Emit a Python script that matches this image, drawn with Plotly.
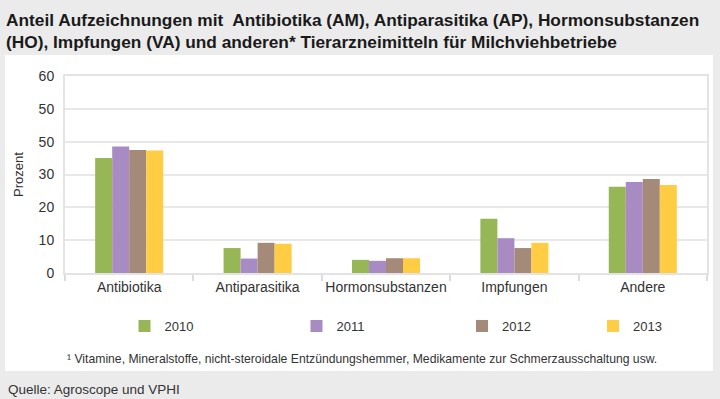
import plotly.graph_objects as go

categories = ["Antibiotika", "Antiparasitika", "Hormonsubstanzen", "Impfungen", "Andere"]
years = ["2010", "2011", "2012", "2013"]
values_2010 = [35.0, 7.6, 4.0, 16.5, 26.3]
values_2011 = [38.5, 4.4, 3.7, 10.6, 27.7]
values_2012 = [37.5, 9.2, 4.5, 7.6, 28.6]
values_2013 = [37.3, 8.9, 4.5, 9.2, 26.8]
series = [values_2010, values_2011, values_2012, values_2013]
colors = ["#97b655", "#a98bc4", "#a68a79", "#ffcd44"]
ytick_vals = [0, 10, 20, 30, 40, 50, 60]
ytick_text = ["0", "10", "20", "30", "50", "50", "60"]

W, H = 720, 399
ML, MR, MT, MB = 65, 13, 76, 126
PW, PH = W - ML - MR, H - MT - MB

def px_x(px):
    return (px - ML) / PW

def px_y(py):
    return (H - MB - py) / PH

TXT = "#333333"
FONT = "Liberation Sans, Arial, sans-serif"

fig = go.Figure()
legend_centers = [146.5, 318.5, 484, 615]
legend_names = ["legend", "legend2", "legend3", "legend4"]
for yr, vals, col, lg in zip(years, series, colors, legend_names):
    fig.add_trace(go.Bar(
        x=categories, y=vals, name=yr, marker_color=col,
        marker_line_width=0, legend=lg,
    ))

layout_legends = {}
for lg, cx in zip(legend_names, legend_centers):
    layout_legends[lg] = dict(
        xref="container", yref="container",
        x=(cx - 22) / W, y=1 - 326 / H, xanchor="left", yanchor="middle",
        orientation="h", bgcolor="rgba(0,0,0,0)",
        font=dict(family=FONT, size=13, color=TXT),
    )

fig.update_layout(
    width=W, height=H,
    margin=dict(l=ML, r=MR, t=MT, b=MB, autoexpand=False),
    paper_bgcolor="#ebebeb",
    plot_bgcolor="white",
    barmode="group", bargap=0.47, bargroupgap=0,
    title=dict(
        text="Anteil Aufzeichnungen mit  Antibiotika (AM), Antiparasitika (AP), Hormonsubstanzen<br>(HO), Impfungen (VA) und anderen* Tierarzneimitteln für Milchviehbetriebe",
        x=6 / W, xanchor="left", xref="container",
        y=1 - 25.5 / H, yanchor="middle", yref="container",
        font=dict(family=FONT, size=17.3, color="#1a1a1a", weight="bold"),
    ),
    xaxis=dict(
        showgrid=False, showline=True, linecolor="#e3e3e3", linewidth=2, mirror=True,
        ticks="outside", tickson="boundaries", ticklen=6, tickcolor="#dcdcdc", tickwidth=1.5,
        tickangle=0, automargin=False,
        tickfont=dict(family=FONT, size=14, color=TXT),
    ),
    yaxis=dict(
        range=[0, 60], tickvals=ytick_vals, ticktext=ytick_text,
        showgrid=True, gridcolor="#e8e8e8", gridwidth=2,
        showline=True, linecolor="#e3e3e3", linewidth=2, mirror=True,
        zeroline=False, ticks="", ticklabelstandoff=6, automargin=False,
        tickfont=dict(family=FONT, size=14, color=TXT),
        title=dict(text="Prozent", font=dict(family=FONT, size=13, color=TXT), standoff=12),
    ),
    showlegend=True,
    shapes=[dict(
        type="rect", xref="paper", yref="paper", layer="below",
        x0=px_x(5), x1=px_x(713), y0=px_y(371), y1=px_y(55),
        fillcolor="white", line=dict(width=0),
    )],
    annotations=[
        dict(text="¹ Vitamine, Mineralstoffe, nicht-steroidale Entzündungshemmer, Medikamente zur Schmerzausschaltung usw.",
             xref="paper", yref="paper", x=px_x(362), y=px_y(359),
             xanchor="center", yanchor="middle", showarrow=False,
             font=dict(family=FONT, size=12.2, color=TXT)),
        dict(text="Quelle: Agroscope und VPHI",
             xref="paper", yref="paper", x=px_x(6), y=px_y(389),
             xanchor="left", yanchor="middle", showarrow=False,
             font=dict(family=FONT, size=13.5, color=TXT)),
    ],
    **layout_legends,
)

fig.write_html(
    "out.html",
    config={"displayModeBar": False},
    post_script="document.body.style.margin='0';document.body.style.padding='0';document.body.style.background='#ebebeb';",
)
